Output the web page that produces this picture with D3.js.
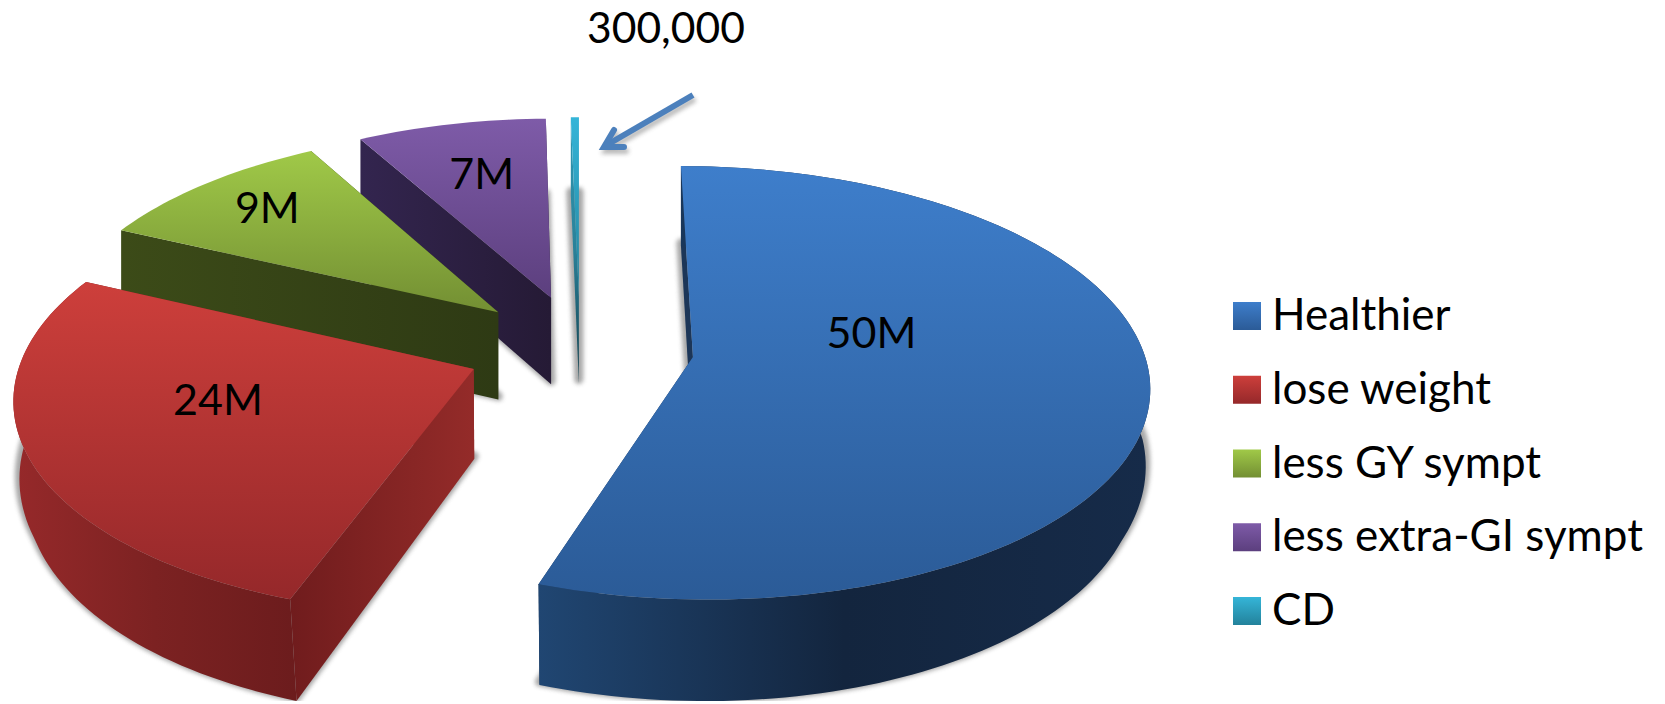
<!DOCTYPE html>
<html>
<head>
<meta charset="utf-8">
<title>Gluten-free diet followers</title>
<script src="https://cdn.jsdelivr.net/npm/d3@7"></script>
<style>
  html, body { margin: 0; padding: 0; background: #fff; }
  svg { display: block; }
  text { font-family: Lato, "Open Sans", sans-serif; fill: #000; }
</style>
</head>
<body>
<svg id="chart" width="1665" height="704"></svg>
<script>
// Chart content
const categories = ["Healthier", "lose weight", "less GY sympt", "less extra-GI sympt", "CD"];
const millions = [50, 24, 9, 7, 0.3];
const valueLabels = ["50M", "24M", "9M", "7M", "300,000"];
const topColors = [["#3e7ecb", "#2b5b97"], ["#cd3f3b", "#95282a"], ["#a0c948", "#738f33"], ["#7e5ba8", "#5c3f7e"], ["#35b5d8", "#23829b"]];
const wallColors = [["#204672", "#13253e", "#162b49"], ["#96292a", "#7c2222", "#6c1c1d"], ["#3c4b18", "#36431a", "#2e3a14"], ["#33254f", "#2b1e3f", "#251a35"], ["#2f8fa8", "#1c5e70", "#123f4c"]];
const cutColors = [["#1c3658", "#1c3658"], ["#701c1d", "#942b29"], ["#3c4b18", "#2e3a14"], ["#33254f", "#251a35"], ["#2f9ab5", "#2a8199", "#123f4c"]];

// Projection of the exploded disc on the page
const width = 1665, height = 704;
const radius = 450, explode = 114, depth = 89;
const centerX = 580, centerY = 348, viewDistance = 3800, tilt = 1786;

const perspective = z => viewDistance / (viewDistance - z);
// The base of the disc narrows a little towards the viewer
const baseShrink = d3.scaleLinear().domain([0, 200]).range([1, 0.978]).clamp(true);
function project(x, z, lower) {
  const s = perspective(z);
  const px = centerX + x * s * (lower ? baseShrink(z) : 1);
  const py = centerY + tilt * (s - 1) + (lower ? depth * s : 0);
  return [px, py];
}

const svg = d3.select("#chart");
const defs = svg.append("defs");

const soft = defs.append("filter").attr("id", "soft")
  .attr("filterUnits", "userSpaceOnUse")
  .attr("x", 0).attr("y", 0).attr("width", width).attr("height", height);
soft.append("feGaussianBlur").attr("stdDeviation", 2.2);

function gradient(id, stops, vertical) {
  const g = defs.append("linearGradient").attr("id", id)
    .attr("x1", 0).attr("y1", 0)
    .attr("x2", vertical ? 0 : 1).attr("y2", vertical ? 1 : 0);
  stops.forEach((c, i) => g.append("stop")
    .attr("offset", i / (stops.length - 1)).attr("stop-color", c));
  return `url(#${id})`;
}

// Slice angles, clockwise from twelve o'clock
const slices = d3.pie().sort(null).value(d => d)(millions);
const line = d3.line();

function ground(slice, theta, r) {
  const mid = (slice.startAngle + slice.endAngle) / 2;
  return [
    explode * Math.sin(mid) + r * Math.sin(theta),
    -explode * Math.cos(mid) - r * Math.cos(theta)
  ];
}
function rim(slice, lower) {
  const n = Math.max(2, Math.ceil((slice.endAngle - slice.startAngle) * 40));
  return d3.range(n + 1).map(i => {
    const t = slice.startAngle + (slice.endAngle - slice.startAngle) * i / n;
    const [x, z] = ground(slice, t, radius);
    return project(x, z, lower);
  });
}
function apex(slice, lower) {
  const [x, z] = ground(slice, 0, 0);
  return project(x, z, lower);
}

// Painted from the back of the disc to the front
const drawOrder = [3, 4, 2, 1, 0];
drawOrder.forEach(i => {
  const s = slices[i];
  const g = svg.append("g").attr("class", "slice");
  const topRim = rim(s, false), lowRim = rim(s, true);
  const top = apex(s, false), low = apex(s, true);

  // Soft shadow under the base of the slice
  g.append("path")
    .attr("d", line([low, ...lowRim]) + "Z")
    .attr("transform", "translate(0,-3)")
    .attr("fill", "#6e6e6e").attr("stroke", "#6e6e6e")
    .attr("stroke-width", 9).attr("stroke-linejoin", "round")
    .attr("opacity", 0.6).attr("filter", "url(#soft)");

  // Radial faces: the closing edge stays hidden, so it goes down first
  const cutFill = gradient(`cut${i}`, cutColors[i], i === 4);
  g.append("path")
    .attr("d", line([topRim[topRim.length - 1], top, low, lowRim[lowRim.length - 1]]) + "Z")
    .attr("fill", cutFill);
  g.append("path")
    .attr("d", line([topRim[0], top, low, lowRim[0]]) + "Z")
    .attr("fill", cutFill);

  // Outer wall, only for slices that reach the near half of the disc
  const reachesFront = -Math.cos(s.startAngle) > 0 || -Math.cos(s.endAngle) > 0;
  if (reachesFront) {
    g.append("path")
      .attr("d", line([...topRim, ...lowRim.slice().reverse()]) + "Z")
      .attr("fill", gradient(`wall${i}`, wallColors[i], false));
  }

  g.append("path")
    .attr("d", line([top, ...topRim]) + "Z")
    .attr("fill", gradient(`top${i}`, topColors[i], true));
});

// Value labels, placed along each slice
const labelReach = [0.42, 0.566, 0.79, 0.69];
const labelTurn = [-25.7, 8.5, 1, 0.4];
const labelSize = 43, legendSize = 44, calloutSize = 42.6;
labelReach.forEach((reach, i) => {
  const s = slices[i];
  const mid = (s.startAngle + s.endAngle) / 2 + labelTurn[i] * Math.PI / 180;
  const [x, z] = ground(s, mid, radius * reach);
  const [px, py] = project(x, z, false);
  svg.append("text").attr("x", px).attr("y", py - 1.5)
    .attr("text-anchor", "middle").attr("dominant-baseline", "central")
    .attr("font-size", labelSize).text(valueLabels[i]);
});

// Callout for the smallest slice
svg.append("text").attr("x", 587).attr("y", 43)
  .attr("font-size", calloutSize).text(valueLabels[4]);

const arrowShaft = [[693, 95], [605, 146]];
const arrowHead = [[614, 130], [604, 147], [624, 147]];
const arrowShadow = svg.append("g").attr("transform", "translate(2,4)")
  .attr("opacity", 0.45).attr("filter", "url(#soft)");
const arrow = svg.append("g");
[arrowShadow, arrow].forEach((g, k) => {
  const color = k ? "#4c80bc" : "#666";
  g.append("path").attr("d", line(arrowShaft)).attr("fill", "none")
    .attr("stroke", color).attr("stroke-width", 6);
  g.append("path").attr("d", line(arrowHead)).attr("fill", "none")
    .attr("stroke", color).attr("stroke-width", 6).attr("stroke-linecap", "round");
});

// Legend
const rows = d3.scalePoint().domain(categories).range([330, 625]);
const legend = svg.append("g").attr("class", "legend");
categories.forEach((name, i) => {
  legend.append("rect").attr("x", 1233).attr("y", rows(name) - 28)
    .attr("width", 28).attr("height", 28)
    .attr("fill", gradient(`key${i}`, topColors[i], true));
  legend.append("text").attr("x", 1272).attr("y", rows(name))
    .attr("font-size", legendSize).text(name);
});
</script>
</body>
</html>
